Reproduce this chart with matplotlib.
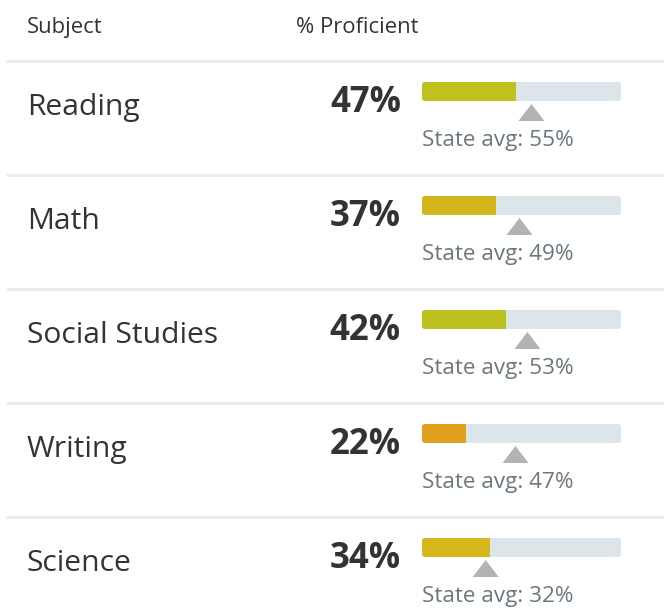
import matplotlib.pyplot as plt
from matplotlib.patches import FancyBboxPatch, Polygon

plt.rcParams['font.family'] = ['Open Sans', 'DejaVu Sans']

subjects = ["Reading", "Math", "Social Studies", "Writing", "Science"]
proficient = [47, 37, 42, 22, 34]
state_avg = [55, 49, 53, 47, 32]
bar_colors = ["#bfc11e", "#d4b51c", "#bcc01f", "#e0a01e", "#d4b81c"]

W, H = 664, 609
fig = plt.figure(figsize=(W / 100, H / 100), dpi=100)
ax = fig.add_axes([0, 0, 1, 1])
ax.set_xlim(0, W)
ax.set_ylim(H, 0)
ax.axis("off")

dark = "#333333"
grey = "#6b777f"

# header
ax.text(27, 33, "Subject", fontsize=15.8, color=dark, va="baseline")
ax.text(296, 33, "% Proficient", fontsize=15.8, color=dark, va="baseline")

row_h = 114
bar_x0, bar_w, bar_h = 422, 199, 19

for i, (s, p, a, c) in enumerate(zip(subjects, proficient, state_avg, bar_colors)):
    y0 = 61 + i * row_h
    ax.plot([6, W], [y0, y0], color="#ebebeb", lw=2, solid_capstyle="butt")
    ax.text(27, y0 + 54, s, fontsize=21.6, color=dark, va="baseline")
    ax.text(401, y0 + 51, f"{p}%", fontsize=25, fontweight="bold",
            color=dark, va="baseline", ha="right")
    by = y0 + 21
    ax.add_patch(FancyBboxPatch((bar_x0, by), bar_w, bar_h,
                                boxstyle="round,pad=0,rounding_size=3",
                                fc="#dce5ea", ec="none"))
    ax.add_patch(FancyBboxPatch((bar_x0, by), bar_w * p / 100, bar_h,
                                boxstyle="round,pad=0,rounding_size=3",
                                fc=c, ec="none"))
    # square off the right end of the filled part
    ax.add_patch(plt.Rectangle((bar_x0 + 4, by), bar_w * p / 100 - 4, bar_h,
                               fc=c, ec="none"))
    tx = bar_x0 + bar_w * a / 100
    ty = by + bar_h + 3
    ax.add_patch(Polygon([(tx - 13, ty + 17), (tx + 13, ty + 17), (tx, ty)],
                         closed=True, fc="#b3b3b3", ec="none"))
    ax.text(422, y0 + 85, f"State avg: {a}%", fontsize=16.2, color=grey,
            va="baseline")

fig.savefig("out.png", dpi=100, facecolor="white")
